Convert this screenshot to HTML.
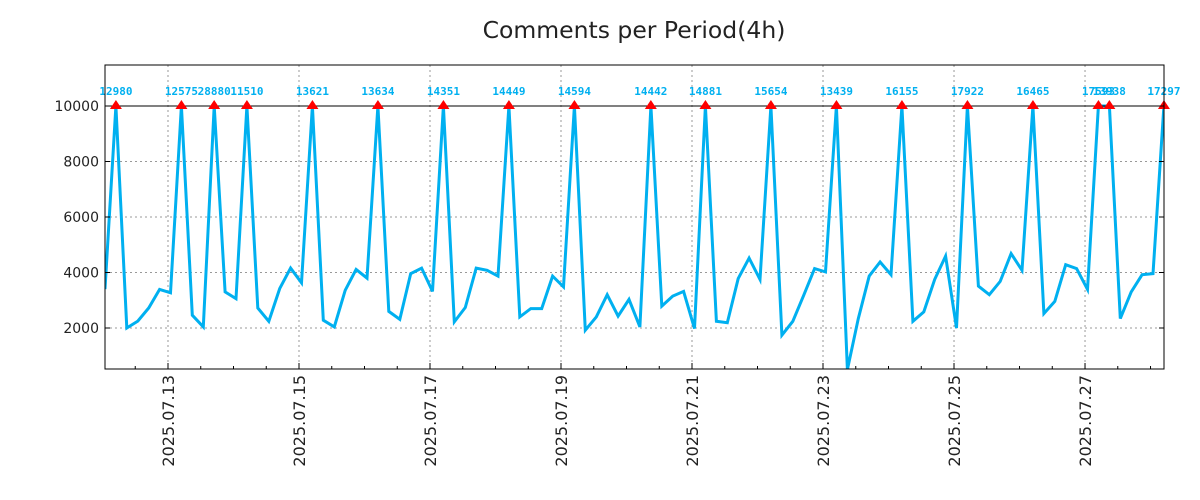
<!DOCTYPE html>
<html><head><meta charset="utf-8"><style>
body{margin:0;background:#fff;}
svg{display:block;font-family:"DejaVu Sans","Liberation Sans",sans-serif;}
</style></head><body>
<svg id="chart" width="1200" height="500" viewBox="0 0 1200 500" xmlns="http://www.w3.org/2000/svg">
<text x="634" y="38" text-anchor="middle" font-size="23.5" fill="#222">Comments per Period(4h)</text>
<g id="grid"></g><g id="series"></g><g id="axes"></g>
</svg>
<script>
const values = [3400,12980,2000,2250,2720,3390,3270,12575,2460,2040,28880,3300,3060,11510,2720,2240,3420,4160,3630,13621,2280,2040,3360,4110,3800,13634,2600,2310,3960,4160,3320,14351,2220,2740,4160,4080,3870,14449,2400,2700,2700,3870,3480,14594,1920,2400,3200,2430,3030,2040,14442,2790,3150,3320,1980,14881,2240,2190,3780,4520,3750,15654,1740,2240,3180,4140,4020,13439,500,2340,3870,4380,3920,16155,2240,2580,3750,4590,2000,17922,3510,3200,3680,4680,4080,16465,2520,2960,4280,4140,3390,17593,13938,2340,3300,3920,3960,17297];
const dateLabels = ["2025.07.13","2025.07.15","2025.07.17","2025.07.19","2025.07.21","2025.07.23","2025.07.25","2025.07.27"];
const yTicks = [2000,4000,6000,8000,10000];
const cap = 10000;
const L=105,R=1164,T=65,B=369,step=10.917,firstTickIdx=5.77;
const xS=i=>L+i*step;
const yS=v=>328-(v-2000)*0.02775;
const NS="http://www.w3.org/2000/svg";
function mk(tag,attrs,parent){const e=document.createElementNS(NS,tag);for(const k in attrs)e.setAttribute(k,attrs[k]);parent.appendChild(e);return e;}
const grid=document.getElementById('grid'),ser=document.getElementById('series'),ax=document.getElementById('axes');
yTicks.forEach(v=>{
  const g=mk('line',{x1:L,x2:R,y1:yS(v),y2:yS(v),stroke:'#999','stroke-dasharray':'2,3','stroke-width':1},grid);
  
  
  const t=mk('text',{x:L-6,y:yS(v)+5,'text-anchor':'end','font-size':14,fill:'#222'},ax);
  t.textContent=v;
  
  
  mk('line',{x1:L,x2:L+5,y1:yS(v),y2:yS(v),stroke:'#000'},ax);
  mk('line',{x1:R,x2:R-5,y1:yS(v),y2:yS(v),stroke:'#000'},ax);
});
dateLabels.forEach((d,k)=>{
  const x=xS(firstTickIdx+12*k);
  const g=mk('line',{x1:x,x2:x,y1:T,y2:B,stroke:'#999','stroke-dasharray':'2,3','stroke-width':1},grid);
  
  
  mk('line',{x1:x,x2:x,y1:B,y2:B-6,stroke:'#000'},ax);
  const t=mk('text',{x:0,y:0,'text-anchor':'end','font-size':16,fill:'#222',transform:`translate(${x+6},375) rotate(-90)`},ax);
  t.textContent=d;
  
  
});
for(let m=firstTickIdx-3;m<values.length;m+=3){const x=xS(m);if(x>L&&x<R)mk('line',{x1:x,x2:x,y1:B,y2:B-3,stroke:'#000'},ax);}
mk('clipPath',{id:'clip'},ser);
mk('rect',{x:L,y:T,width:R-L,height:B-T},document.getElementById('clip'));
const pts=values.map((v,i)=>xS(i).toFixed(1)+','+yS(Math.min(v,cap)).toFixed(1)).join(' ');
const line=mk('polyline',{points:pts,fill:'none',stroke:'#00b0f0','stroke-width':3,'stroke-linejoin':'miter','clip-path':'url(#clip)'},ser);


const capLine=mk('line',{x1:L,x2:R,y1:yS(cap),y2:yS(cap),stroke:'#000','stroke-width':1},ser);


values.forEach((v,i)=>{
  if(v<=cap)return;
  const x=xS(i),y=yS(cap);
  const m=mk('polygon',{points:`${x-6},${y+3} ${x},${y-6} ${x+6},${y+3}`,fill:'#f00'},ser);
  
  
  const t=mk('text',{x:x,y:95,'text-anchor':'middle','font-size':11,'font-weight':'bold','font-family':'DejaVu Sans Mono, Liberation Mono, monospace',fill:'#00b0f0'},ser);
  t.textContent=v;
  
  
});
const fr=mk('rect',{x:L,y:T,width:R-L,height:B-T,fill:'none',stroke:'#000','stroke-width':1},ax);


</script>
</body></html>
